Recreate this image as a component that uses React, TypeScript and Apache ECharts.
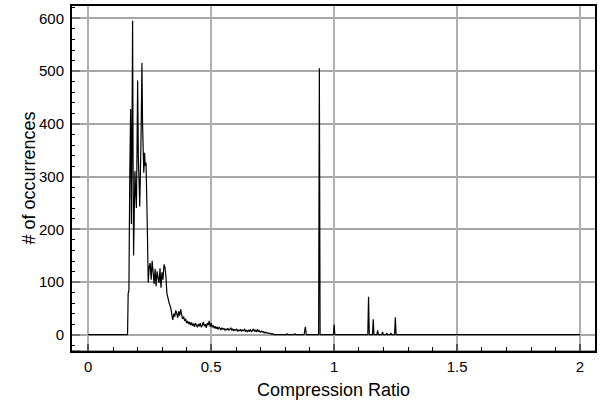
import React, { useEffect, useRef } from "react";
import * as echarts from "echarts";

// Peak region (compression ratio, count)
const peakX = [0, 0.16, 0.1625, 0.1655, 0.169, 0.1725, 0.1755, 0.1785, 0.1805, 0.1825, 0.1845, 0.187, 0.19, 0.193, 0.196, 0.1985, 0.201, 0.204, 0.207, 0.2095, 0.212, 0.215, 0.2185, 0.221, 0.2235, 0.226, 0.229, 0.232, 0.235, 0.238, 0.2405];
const peakY = [0, 0, 78, 84, 300, 428, 210, 420, 595, 330, 150, 220, 310, 270, 240, 350, 482, 330, 290, 243, 300, 380, 515, 400, 352, 307, 345, 320, 326, 260, 200];

// Tail: bins of 0.004 starting at 0.244
const tailStart = 0.244;
const tailStep = 0.004;
const tailCounts = [
  99, 128, 136, 104, 140, 118, 96, 125, 92, 120, 108, 98, 126, 89, 118, 104, 133, 128, 110, 78,
  70, 62, 56, 50, 38, 28, 40, 34, 46, 40, 32, 44, 36, 48, 38, 30, 34, 26, 30, 22,
  26, 20, 24, 18, 23, 17, 21, 15, 22, 18, 14, 20, 16, 22, 14, 18, 24, 16, 20, 13,
  22, 18, 26, 15, 22, 14, 18, 12, 16, 11, 15, 10, 14, 12, 9, 13, 10, 12, 8, 11,
  9, 12, 8, 10, 13, 8, 11, 7, 10, 8, 11, 6, 9, 7, 10, 6, 9, 7, 11, 6,
  8, 5, 9, 6, 10, 5, 8, 11, 6, 9, 5, 10, 6, 8, 4, 7, 5, 6, 3, 5,
  3, 4, 2, 3, 2, 1, 2, 1, 0,
];

// Isolated spikes beyond the tail
const spikeX = [0.806, 0.809, 0.812, 0.826, 0.829, 0.832, 0.838, 0.841, 0.844, 0.878, 0.883, 0.887, 0.937, 0.94, 0.943, 0.997, 1.0, 1.003, 1.137, 1.14, 1.143, 1.156, 1.159, 1.162, 1.174, 1.177, 1.18, 1.194, 1.197, 1.2, 1.211, 1.214, 1.217, 1.228, 1.231, 1.234, 1.246, 1.249, 1.252, 2.0];
const spikeY = [0, 2, 0, 0, 1, 0, 0, 2, 0, 0, 15, 0, 0, 505, 0, 0, 19, 0, 0, 72, 0, 0, 29, 0, 0, 8, 0, 0, 5, 0, 0, 3, 0, 0, 3, 0, 0, 33, 0, 0];

const xMin = -0.07;
const xMax = 2.065;
const yMin = -31;
const yMax = 625;

const FONT = "'Liberation Sans', Arial, Helvetica, sans-serif";

export default function App() {
  const ref = useRef<HTMLDivElement>(null);

  useEffect(() => {
    if (!ref.current) return;
    const chart = echarts.init(ref.current, null, { renderer: "svg" });

    const data: [number, number][] = [];
    peakX.forEach((x, i) => data.push([x, peakY[i]]));
    tailCounts.forEach((c, i) => data.push([+(tailStart + tailStep * i).toFixed(4), c]));
    spikeX.forEach((x, i) => data.push([x, spikeY[i]]));

    const L = 71, T = 5, W = 525, H = 347;

    chart.setOption({
      animation: false,
      backgroundColor: "#fff",
      grid: { left: L, top: T, width: W, height: H },
      xAxis: {
        type: "value",
        min: xMin,
        max: xMax,
        minInterval: 0.5,
        maxInterval: 0.5,
        splitNumber: 4,
        name: "Compression Ratio",
        nameLocation: "middle",
        nameGap: 30,
        nameTextStyle: { fontFamily: FONT, fontSize: 18, color: "#000" },
        axisLine: { show: false, onZero: false },
        axisTick: { show: true, inside: true, length: 7, lineStyle: { color: "#555", width: 2 } },
        minorTick: { show: true, splitNumber: 5, length: 4, lineStyle: { color: "#000", width: 1 } },
        splitLine: { show: true, lineStyle: { color: "#b0b0b0", width: 2 } },
        axisLabel: {
          showMinLabel: false,
          showMaxLabel: false,
          margin: 8,
          fontFamily: FONT,
          fontSize: 15,
          color: "#000",
        },
      },
      yAxis: {
        type: "value",
        min: yMin,
        max: yMax,
        minInterval: 100,
        maxInterval: 100,
        splitNumber: 6,
        name: "# of occurrences",
        nameLocation: "middle",
        nameGap: 33,
        nameMoveOverlap: false,
        nameTextStyle: { fontFamily: FONT, fontSize: 18, color: "#000" },
        axisLine: { show: false, onZero: false },
        axisTick: { show: true, inside: true, length: 9, lineStyle: { color: "#777", width: 2 } },
        minorTick: { show: true, splitNumber: 5, length: 4, lineStyle: { color: "#000", width: 1 } },
        splitLine: { show: true, lineStyle: { color: "#888", width: 1.5 } },
        axisLabel: {
          showMinLabel: false,
          showMaxLabel: false,
          margin: 7,
          fontFamily: FONT,
          fontSize: 15,
          color: "#000",
        },
      },
      graphic: [
        {
          type: "rect",
          z: 100,
          silent: true,
          shape: { x: L, y: T, width: W, height: H },
          style: { fill: "none", stroke: "#000", lineWidth: 2 },
        },
      ],
      series: [
        {
          type: "line",
          data,
          showSymbol: false,
          symbol: "none",
          lineStyle: { color: "#000", width: 1.2 },
          z: 3,
        },
      ],
    });

    return () => chart.dispose();
  }, []);

  return (
    <div
      ref={ref}
      style={{ position: "fixed", left: 0, top: 0, width: 608, height: 404, background: "#fff" }}
    />
  );
}
